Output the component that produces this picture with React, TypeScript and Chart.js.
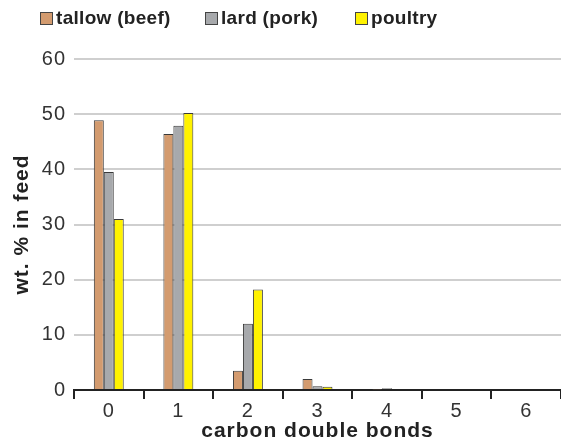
import React, { useEffect, useRef } from "react";
import { Chart, registerables } from "chart.js";

Chart.register(...registerables);

const categories = ["0", "1", "2", "3", "4", "5", "6"];
const tallow = [48.9, 46.4, 3.5, 2.0, 0.1, 0, 0];
const lard = [39.5, 47.9, 12.0, 0.7, 0.3, 0, 0];
const poultry = [31.0, 50.2, 18.2, 0.6, 0, 0, 0];
const seriesLabels = ["tallow (beef)", "lard (pork)", "poultry"];
const yTicks = [0, 10, 20, 30, 40, 50, 60];

const FONT = "Arial, 'Liberation Sans', sans-serif";

const spacingPlugin = {
  id: "spacing",
  beforeDraw(chart: any) {
    (chart.ctx as any).letterSpacing = "1px";
  },
};

const legendPlugin = {
  id: "customLegend",
  afterDraw(chart: any) {
    const ctx = chart.ctx;
    const xs = [40, 205, 355];
    const y = 19;
    ctx.save();
    (ctx as any).letterSpacing = "0.3px";
    chart.data.datasets.forEach((ds: any, i: number) => {
      const x = xs[i];
      ctx.fillStyle = ds.backgroundColor;
      ctx.fillRect(x, y - 7, 13, 13);
      ctx.strokeStyle = "#444";
      ctx.lineWidth = 1;
      ctx.strokeRect(x + 0.5, y - 6.5, 12, 12);
      ctx.fillStyle = "#222";
      ctx.font = `bold 19px ${FONT}`;
      ctx.textBaseline = "middle";
      ctx.textAlign = "left";
      ctx.fillText(ds.label, x + 16, y);
    });
    ctx.restore();
  },
};

export default function App() {
  const ref = useRef<HTMLCanvasElement>(null);
  useEffect(() => {
    if (!ref.current) return;
    const common = {
      borderColor: "#3a3a3a",
      borderWidth: 1,
      barPercentage: 1.0,
      categoryPercentage: 0.43,
    };
    const chart = new Chart(ref.current, {
      type: "bar",
      data: {
        labels: categories,
        datasets: [
          { label: seriesLabels[0], data: tallow, backgroundColor: "#D39B6F", ...common },
          { label: seriesLabels[1], data: lard, backgroundColor: "#A7A9AC", ...common },
          { label: seriesLabels[2], data: poultry, backgroundColor: "#FFF200", ...common },
        ],
      },
      options: {
        animation: false,
        responsive: false,
        maintainAspectRatio: false,
        layout: { padding: { top: 59, left: 0, right: 0, bottom: 0 } },
        plugins: { legend: { display: false }, tooltip: { enabled: false } },
        scales: {
          x: {
            grid: {
              display: true,
              drawOnChartArea: false,
              drawTicks: true,
              tickLength: 9,
              color: "#222",
              lineWidth: 2,
              offset: true,
            },
            border: { display: true, color: "#222", width: 2 },
            ticks: { color: "#333", font: { family: FONT, size: 20 }, padding: 0 },
            title: {
              display: true,
              text: "carbon double bonds",
              color: "#222",
              font: { family: FONT, size: 21, weight: "bold" },
              padding: { top: 0, bottom: 2 },
            },
            afterFit(scale: any) {
              scale.height = 56;
            },
          },
          y: {
            min: 0,
            max: 60,
            afterBuildTicks(scale: any) {
              scale.ticks = yTicks.map((v) => ({ value: v }));
            },
            grid: { color: "#cfcfcf", lineWidth: 2, drawTicks: false },
            border: { display: false },
            ticks: { color: "#333", font: { family: FONT, size: 20 }, padding: 8 },
            title: {
              display: true,
              text: "wt. % in feed",
              color: "#222",
              font: { family: FONT, size: 21, weight: "bold" },
              padding: { top: 10, bottom: 0 },
            },
            afterFit(scale: any) {
              scale.width = 74;
            },
          },
        },
      } as any,
      plugins: [spacingPlugin, legendPlugin],
    });
    return () => chart.destroy();
  }, []);
  return (
    <div style={{ position: "fixed", left: 0, top: 0, width: 561, height: 446, background: "#fff" }}>
      <canvas ref={ref} width={561} height={446} style={{ width: 561, height: 446 }} />
    </div>
  );
}
